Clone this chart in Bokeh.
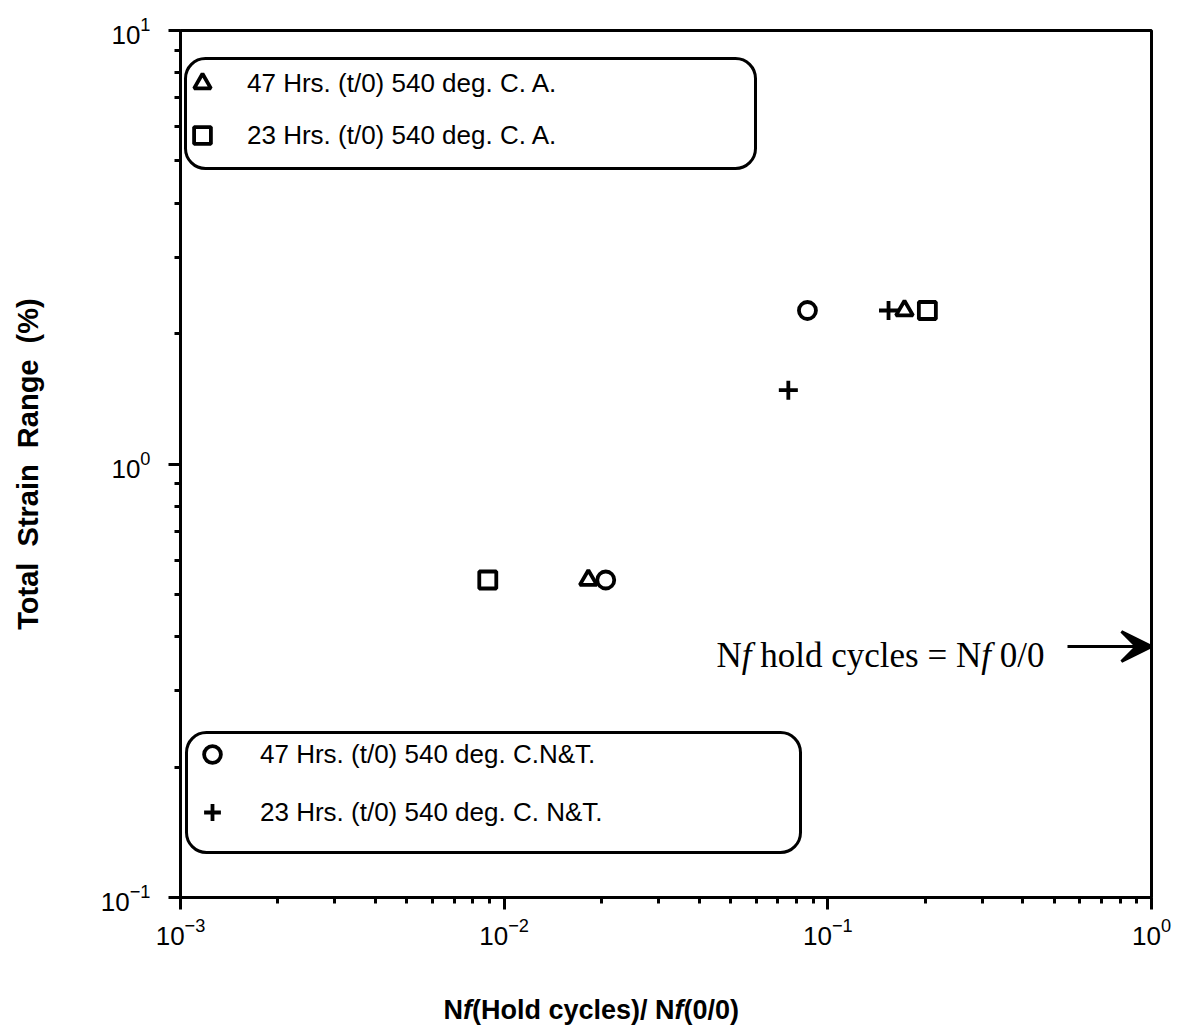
from bokeh.plotting import figure
from bokeh.layouts import column
from bokeh.models import (Legend, BoxAnnotation, Label, Arrow, VeeHead,
                          FixedTicker, Range1d)
from bokeh.embed import file_html
from bokeh.resources import INLINE

# ---- data: fatigue life ratio vs. total strain range ----
# 47 h hold, 540 deg C, aged (A.)
ca47_x = [0.0182, 0.1725]
ca47_y = [0.54, 2.26]
# 23 h hold, 540 deg C, aged (A.)
ca23_x = [0.0089, 0.203]
ca23_y = [0.54, 2.26]
# 47 h hold, 540 deg C, normalised & tempered
nt47_x = [0.0206, 0.0865]
nt47_y = [0.54, 2.26]
# 23 h hold, 540 deg C, normalised & tempered
nt23_x = [0.0755, 0.154]
nt23_y = [1.48, 2.26]

ca47_label = "47 Hrs. (t/0) 540 deg. C. A."
ca23_label = "23 Hrs. (t/0) 540 deg. C. A."
nt47_label = "47 Hrs. (t/0) 540 deg. C.N&T."
nt23_label = "23 Hrs. (t/0) 540 deg. C. N&T."

x_major = [1e-3, 1e-2, 1e-1, 1.0]
y_major = [0.1, 1.0, 10.0]

NB = "\u00a0"  # keeps wide gaps from collapsing in SVG text

# ---- page / frame geometry ----
W = 1186
H_MAIN, H_XLAB = 990, 43
BL, BR, BT, BB = 180, 35, 30, 93
FL, FR, FT, FB = BL, W - BR, BT, H_MAIN - BB

def px_x(px):
    """Page x (pixels) -> data x on the log axis."""
    return 10 ** (-3 + 3 * (px - FL) / (FR - FL))

def px_y(py):
    """Page y (pixels) -> data y on the log axis."""
    return 10 ** (-1 + 2 * (FB - py) / (FB - FT))

SANS = "Liberation Sans"
SERIF = "Liberation Serif"

p = figure(width=W, height=H_MAIN, x_axis_type="log", y_axis_type="log",
           x_range=(1e-3, 1.0), y_range=(0.1, 10.0),
           output_backend="svg", toolbar_location=None,
           min_border_left=BL, min_border_right=BR,
           min_border_top=BT, min_border_bottom=BB)

p.background_fill_color = "white"
p.border_fill_color = "white"
p.outline_line_color = "black"
p.outline_line_width = 3
p.grid.visible = False

def minors(decades):
    return [k * 10.0 ** e for e in decades for k in range(2, 10)]

p.xaxis.ticker = FixedTicker(ticks=x_major, minor_ticks=minors([-3, -2, -1]))
p.yaxis.ticker = FixedTicker(ticks=y_major, minor_ticks=minors([-1, 0]))

for ax in (p.xaxis[0], p.yaxis[0]):
    ax.axis_line_color = "black"
    ax.axis_line_width = 3
    ax.major_tick_line_color = "black"
    ax.major_tick_line_width = 3
    ax.minor_tick_line_color = "black"
    ax.minor_tick_line_width = 3
    ax.major_tick_in = 0
    ax.minor_tick_in = 0
    ax.major_tick_out = 12
    ax.minor_tick_out = 6
    ax.major_label_text_font = SANS
    ax.major_label_text_font_size = "26px"
    ax.major_label_text_color = "black"

p.xaxis.major_label_standoff = 8
p.yaxis.major_label_standoff = 18

p.yaxis.axis_label = f"Total {NB}Strain {NB}Range {NB}(%)"
p.yaxis.axis_label_text_font = SANS
p.yaxis.axis_label_text_font_style = "bold"
p.yaxis.axis_label_text_font_size = "29px"
p.yaxis.axis_label_text_color = "black"
p.yaxis.axis_label_standoff = 54

# ---- markers ----
common = dict(fill_color=None, line_color="black", line_width=3.8)
r_tri = p.scatter(ca47_x, ca47_y, marker="triangle", size=17, **common)
r_sq = p.scatter(ca23_x, ca23_y, marker="square", size=17, **common)
r_circ = p.scatter(nt47_x, nt47_y, marker="circle", size=17, **common)
r_plus = p.scatter(nt23_x, nt23_y, marker="cross", size=19, **common)

# ---- rounded legend frames ----
box_style = dict(fill_alpha=0, line_color="black", line_alpha=1.0,
                 line_width=3, border_radius=20)
p.add_layout(BoxAnnotation(left=px_x(185), right=px_x(755),
                           top=px_y(58), bottom=px_y(168), **box_style))
p.add_layout(BoxAnnotation(left=px_x(186), right=px_x(800),
                           top=px_y(732), bottom=px_y(852), **box_style))

legend_style = dict(glyph_width=42, glyph_height=42, padding=0, margin=0,
                    border_line_alpha=0, background_fill_alpha=0,
                    label_text_font=SANS, label_text_font_size="26px",
                    label_text_color="black")

# legend location = offset of its lower-left corner from the frame's lower-left
leg_top = Legend(items=[(ca47_label, [r_tri]), (ca23_label, [r_sq])],
                 location=(1, FB - 156), spacing=10, label_standoff=24,
                 **legend_style)
leg_bot = Legend(items=[(nt47_label, [r_circ]), (nt23_label, [r_plus])],
                 location=(11, FB - 833), spacing=16, label_standoff=27,
                 **legend_style)
p.add_layout(leg_top)
p.add_layout(leg_bot)

# ---- annotation: Nf hold cycles = Nf 0/0 with arrow to the right edge ----
arrow_y = px_y(646)
p.add_layout(Arrow(end=VeeHead(size=30, fill_color="black", line_color="black",
                               line_width=3),
                   x_start=px_x(1067), y_start=arrow_y, x_end=1.0, y_end=arrow_y,
                   line_color="black", line_width=3))

def rich_text(fig, pieces, x, y, font, size, bold, baseline):
    """Lay out a run of text pieces, some italic, left to right."""
    off = 0.0
    for txt, italic, em in pieces:
        if bold:
            style = "bold italic" if italic else "bold"
        else:
            style = "italic" if italic else "normal"
        fig.add_layout(Label(x=x, y=y, x_offset=off, text=txt,
                             text_font=font, text_font_size=f"{size}px",
                             text_font_style=style, text_color="black",
                             text_align="left", text_baseline=baseline))
        off += em * size

rich_text(p, [("N", False, 0.722), ("f", True, 0.278),
              (NB + "hold cycles = N", False, 6.563), ("f", True, 0.278),
              (NB + "0/0", False, 1.528)],
          px_x(716), px_y(655), SERIF, 35, False, "alphabetic")

# ---- x-axis title strip underneath, sharing the x scale ----
q = figure(width=W, height=H_XLAB, x_axis_type="log", x_range=p.x_range,
           y_range=Range1d(0, 1), output_backend="svg", toolbar_location=None,
           min_border_left=BL, min_border_right=BR,
           min_border_top=0, min_border_bottom=0)
q.axis.visible = False
q.grid.visible = False
q.outline_line_color = None
q.background_fill_color = "white"
q.border_fill_color = "white"

rich_text(q, [("N", False, 0.722), ("f", True, 0.333),
              ("(Hold cycles)/" + NB + "N", False, 7.502), ("f", True, 0.333),
              ("(0/0)", False, 2.056)],
          px_x(443), 0.55, SANS, 27, True, "middle")

layout = column(p, q, spacing=0)
open("out.html", "w").write(file_html(layout, INLINE))
